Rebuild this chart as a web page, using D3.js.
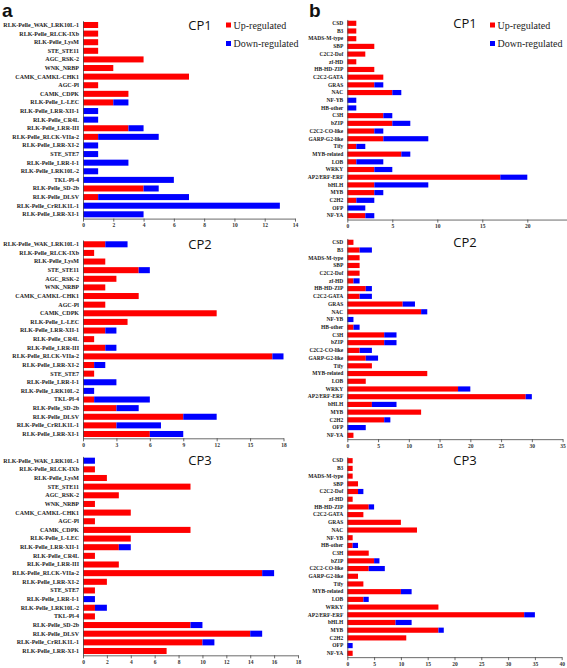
<!DOCTYPE html>
<html><head><meta charset="utf-8">
<script src="https://cdn.jsdelivr.net/npm/d3@7/dist/d3.min.js"></script>
<style>body{margin:0;background:#fff}</style>
</head><body><svg id="c" width="567" height="668"></svg>
<script>
// ---- data ----
const catsA = ["RLK-Pelle_WAK_LRK10L-1","RLK-Pelle_RLCK-IXb","RLK-Pelle_LysM","STE_STE11","AGC_RSK-2","WNK_NRBP","CAMK_CAMKL-CHK1","AGC-Pl","CAMK_CDPK","RLK-Pelle_L-LEC","RLK-Pelle_LRR-XII-1","RLK-Pelle_CR4L","RLK-Pelle_LRR-III","RLK-Pelle_RLCK-VIIa-2","RLK-Pelle_LRR-XI-2","STE_STE7","RLK-Pelle_LRR-I-1","RLK-Pelle_LRK10L-2","TKL-Pl-4","RLK-Pelle_SD-2b","RLK-Pelle_DLSV","RLK-Pelle_CrRLK1L-1","RLK-Pelle_LRR-XI-1"];
const upA1   = [1,1,1,1,4,2,7,1,3,2,0,0,3,1,0,0,0,0,0,4,1,0,0];
const downA1 = [0,0,0,0,0,0,0,0,0,1,1,1,1,4,1,1,3,1,6,1,6,13,4];
const upA2   = [2,1,2,5,3,2,5,2,12,4,2,1,2,17,1,1,0,0,1,3,9,3,6];
const downA2 = [2,0,0,1,0,0,0,0,0,0,1,0,1,1,1,0,3,1,5,2,3,4,3];
const upA3   = [0,1,2,9,3,1,4,1,9,4,3,1,3,15,2,1,0,1,1,9,14,10,7];
const downA3 = [1,0,0,0,0,0,0,0,0,0,1,0,0,1,0,0,1,1,0,1,1,1,0];

const catsB = ["CSD","B3","MADS-M-type","SBP","C2C2-Dof","zf-HD","HB-HD-ZIP","C2C2-GATA","GRAS","NAC","NF-YB","HB-other","C3H","bZIP","C2C2-CO-like","GARP-G2-like","Tify","MYB-related","LOB","WRKY","AP2/ERF-ERF","bHLH","MYB","C2H2","OFP","NF-YA"];
const upB1   = [1,1,1,3,2,1,3,4,3,5,0,0,4,5,3,4,1,6,1,3,17,3,3,1,0,2];
const downB1 = [0,0,0,0,0,0,0,0,1,1,1,1,1,2,1,5,1,1,3,2,3,6,1,2,2,1];
const upB2   = [1,2,2,2,2,1,3,2,9,12,0,1,6,6,2,3,4,13,3,18,29,4,12,6,0,1];
const downB2 = [0,2,0,0,0,1,1,2,2,1,1,1,2,2,2,2,0,0,0,2,1,4,0,1,3,0];
const upB3   = [1,1,1,2,2,1,4,3,10,13,1,1,4,5,4,2,3,10,3,17,33,9,17,11,0,1];
const downB3 = [0,0,0,0,1,0,1,0,0,0,0,1,0,1,3,0,0,2,1,0,2,3,1,0,1,0];

const ticksA1 = [0,2,4,6,8,10,12,14];
const ticksA2 = [0,3,6,9,12,15,18];
const ticksA3 = [0,2,4,6,8,10,12,14,16,18];
const ticksB1 = [0,5,10,15,20];
const ticksB2 = [0,5,10,15,20,25,30,35];
const ticksB3 = [0,5,10,15,20,25,30,35,40];

const panelTitles = ["CP1","CP2","CP3"];
const legendLabels = ["Up-regulated","Down-regulated"];
const colors = {up:"#ff0000", down:"#0000ff"};

// ---- drawing ----
const svg = d3.select('#c');
const serif = "'Liberation Serif','Times New Roman',serif";

function panel(cfg){
  const n = cfg.cats.length;
  const step = (cfg.yLast - cfg.yFirst)/(n-1);
  const y0 = cfg.yFirst - step/2, y1 = cfg.yLast + step/2;
  const y = d3.scaleBand().domain(cfg.cats).range([y0,y1]).paddingInner(cfg.pad).paddingOuter(cfg.pad/2);
  const x = d3.scaleLinear().domain([0,cfg.max]).range([cfg.x0,cfg.x1]);
  const g = svg.append('g');
  const rows = cfg.cats.map((c,i)=>({c, up:cfg.up[i], down:cfg.down[i]}));
  g.selectAll('rect.up').data(rows.filter(d=>d.up>0)).join('rect')
    .attr('x', x(0)).attr('y', d=>y(d.c)).attr('height', y.bandwidth())
    .attr('width', d=>x(d.up)-x(0)).attr('fill', colors.up);
  g.selectAll('rect.dn').data(rows.filter(d=>d.down>0)).join('rect')
    .attr('x', d=>x(d.up)).attr('y', d=>y(d.c)).attr('height', y.bandwidth())
    .attr('width', d=>x(d.up+d.down)-x(d.up)).attr('fill', colors.down);
  // x axis
  const xa = g.append('g').attr('transform',`translate(0,${y1})`)
    .call(d3.axisBottom(x).tickValues(cfg.ticks).tickSize(3).tickSizeOuter(0).tickPadding(1.5));
  xa.selectAll('text').attr('font-family',serif).attr('font-weight','bold').attr('font-size',cfg.tickFs).attr('fill','#333');
  xa.selectAll('line,path').attr('stroke','#444').attr('stroke-width',0.8);
  // y axis
  const ya = g.append('g').attr('transform',`translate(${cfg.x0},0)`)
    .call(d3.axisLeft(y).tickSize(0).tickPadding(4));
  ya.selectAll('text').attr('font-family',serif).attr('font-weight','bold').attr('font-size',cfg.catFs).attr('fill','#222');
  ya.select('path').attr('stroke','#444').attr('stroke-width',0.8);
  // title
  g.append('text').attr('x',cfg.tx).attr('y',cfg.yFirst).attr('dy','0.35em').attr('text-anchor','middle')
    .attr('font-family',"'Open Sans',sans-serif").attr('font-size',13).attr('fill','#111').text(cfg.title);
  if(cfg.legend){
    [["up",0],["down",1]].forEach(([k,i])=>{
      const ly = 25 + i*18.5;
      g.append('rect').attr('x',cfg.lx).attr('y',ly-2.5).attr('width',5).attr('height',5).attr('fill',colors[k]);
      g.append('text').attr('x',cfg.lx+7.5).attr('y',ly).attr('dy','0.35em')
        .attr('font-family',serif).attr('font-size',10).attr('fill','#222').text(legendLabels[i]);
    });
  }
}

panel({cats:catsA, up:upA1, down:downA1, max:14, ticks:ticksA1, x0:83, x1:295, yFirst:25, yLast:214.3, pad:0.3, catFs:6, tickFs:5.5, title:panelTitles[0], tx:200, legend:true, lx:226});
panel({cats:catsA, up:upA2, down:downA2, max:18, ticks:ticksA2, x0:83, x1:283.5, yFirst:244.3, yLast:434, pad:0.3, catFs:6, tickFs:5.5, title:panelTitles[1], tx:200});
panel({cats:catsA, up:upA3, down:downA3, max:18, ticks:ticksA3, x0:83, x1:298, yFirst:460.7, yLast:651, pad:0.3, catFs:6, tickFs:5.5, title:panelTitles[2], tx:200});
panel({cats:catsB, up:upB1, down:downB1, max:25, ticks:ticksB1, x0:347.3, x1:572.3, yFirst:23.3, yLast:215.7, pad:0.33, catFs:5.5, tickFs:5.5, title:panelTitles[0], tx:465, legend:true, lx:490});
panel({cats:catsB, up:upB2, down:downB2, max:35, ticks:ticksB2, x0:347.3, x1:562.6, yFirst:242.3, yLast:435.3, pad:0.33, catFs:5.5, tickFs:5.5, title:panelTitles[1], tx:465});
panel({cats:catsB, up:upB3, down:downB3, max:40, ticks:ticksB3, x0:347.3, x1:561.7, yFirst:460.7, yLast:653.3, pad:0.33, catFs:5.5, tickFs:5.5, title:panelTitles[2], tx:465});

svg.append('text').attr('x',2).attr('y',17).attr('font-family',"'Liberation Sans',Arial,sans-serif").attr('font-weight','bold').attr('font-size',19).attr('fill','#111').text('a');
svg.append('text').attr('x',309).attr('y',17).attr('font-family',"'Liberation Sans',Arial,sans-serif").attr('font-weight','bold').attr('font-size',19).attr('fill','#111').text('b');
</script></body></html>
